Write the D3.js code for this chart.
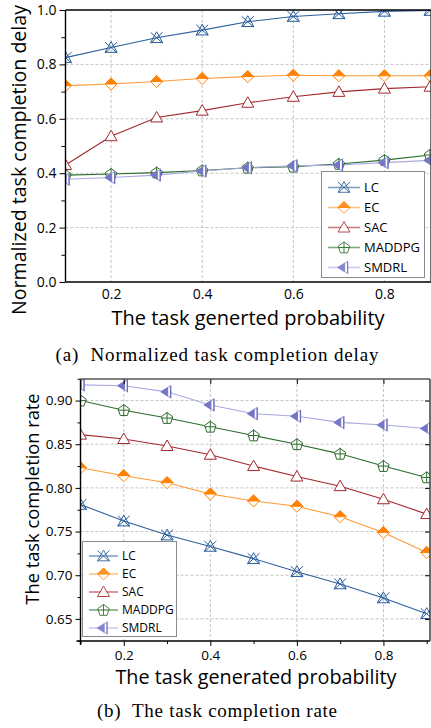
<!DOCTYPE html>
<html>
<head>
<meta charset="utf-8">
<script src="https://cdn.jsdelivr.net/npm/d3@7"></script>
<style>
  body { margin: 0; background: #fff; }
  svg { display: block; }
  .tick text { font-family: "Open Sans", sans-serif; fill: #000; }
</style>
</head>
<body>
<script>
"use strict";

// x values shared by both panels
var probs = [0.1, 0.2, 0.3, 0.4, 0.5, 0.6, 0.7, 0.8, 0.9];
var names = ["LC", "EC", "SAC", "MADDPG", "SMDRL"];

// (a) normalized task completion delay
var delayLC     = [0.825, 0.862, 0.898, 0.926, 0.957, 0.976, 0.986, 0.995, 0.998];
var delayEC     = [0.722, 0.728, 0.737, 0.748, 0.755, 0.760, 0.758, 0.758, 0.758];
var delaySAC    = [0.430, 0.536, 0.605, 0.630, 0.659, 0.681, 0.699, 0.711, 0.718];
var delayMADDPG = [0.393, 0.397, 0.402, 0.410, 0.420, 0.424, 0.434, 0.448, 0.467];
var delaySMDRL  = [0.378, 0.384, 0.393, 0.408, 0.420, 0.427, 0.430, 0.439, 0.447];

// (b) task completion rate
var rateLC     = [0.781, 0.762, 0.746, 0.733, 0.719, 0.704, 0.690, 0.674, 0.656];
var rateEC     = [0.823, 0.814, 0.806, 0.793, 0.785, 0.779, 0.767, 0.749, 0.726];
var rateSAC    = [0.861, 0.856, 0.848, 0.838, 0.825, 0.813, 0.802, 0.787, 0.770];
var rateMADDPG = [0.900, 0.889, 0.880, 0.870, 0.860, 0.850, 0.839, 0.825, 0.812];
var rateSMDRL  = [0.918, 0.917, 0.910, 0.895, 0.885, 0.882, 0.875, 0.872, 0.868];

var delayTicks = [0.0, 0.2, 0.4, 0.6, 0.8, 1.0];
var rateTicks = [0.65, 0.70, 0.75, 0.80, 0.85, 0.90];
var xTicks = [0.2, 0.4, 0.6, 0.8];

var colors = {
	LC: "#2d5f9c",
	EC: "#ff8205",
	SAC: "#a3282c",
	MADDPG: "#2c6b2c",
	SMDRL: "#7676c6"
};
var lineColors = {
	LC: "#2d5f9c",
	EC: "#ff9a33",
	SAC: "#a3282c",
	MADDPG: "#2c6b2c",
	SMDRL: "#a9a9e4"
};

var svg = d3.select("body").append("svg")
	.attr("width", 431)
	.attr("height", 728);

// draw one marker into group g, centred at 0,0
function marker(g, name, r) {
	var c = colors[name];
	if (name == "LC") {
		g.append("path")
			.attr("d", "M0," + (-r) + "L" + r + "," + (r * 0.8) + "L" + (-r) + "," + (r * 0.8) + "Z")
			.attr("fill", "none").attr("stroke", c).attr("stroke-width", 1);
		g.append("path")
			.attr("d", "M" + (-r) + "," + (-r * 0.9) + "L" + r + "," + (r * 0.9) + "M" + r + "," + (-r * 0.9) + "L" + (-r) + "," + (r * 0.9))
			.attr("fill", "none").attr("stroke", c).attr("stroke-width", 1);
	}
	else if (name == "EC") {
		g.append("path")
			.attr("d", "M0," + (-r) + "L" + r + ",0L0," + r + "L" + (-r) + ",0Z")
			.attr("fill", "#fff").attr("stroke", c).attr("stroke-width", 1);
		g.append("path")
			.attr("d", "M" + (-r) + ",0L0," + (-r) + "L" + r + ",0Z")
			.attr("fill", c).attr("stroke", c).attr("stroke-width", 1);
	}
	else if (name == "SAC") {
		g.append("path")
			.attr("d", "M0," + (-r) + "L" + r + "," + (r * 0.75) + "L" + (-r) + "," + (r * 0.75) + "Z")
			.attr("fill", "#fff").attr("stroke", c).attr("stroke-width", 1);
	}
	else if (name == "MADDPG") {
		var pts = d3.range(5).map(function (i) {
			var a = -Math.PI / 2 + i * 2 * Math.PI / 5;
			return [r * Math.cos(a), r * Math.sin(a) + 0.5];
		});
		g.append("path")
			.attr("d", "M" + pts.join("L") + "Z")
			.attr("fill", "#fff").attr("stroke", c).attr("stroke-width", 1);
		g.append("path")
			.attr("d", "M0," + (-r) + "V" + (r * 0.85) + "M" + (-r * 0.95) + ",0H" + (r * 0.95))
			.attr("fill", "none").attr("stroke", c).attr("stroke-width", 1);
	}
	else {
		g.append("path")
			.attr("d", "M" + (-r) + ",0L" + (r * 0.6) + "," + (-r) + "L" + (r * 0.6) + "," + r + "Z")
			.attr("fill", "#fff").attr("stroke", lineColors.SMDRL).attr("stroke-width", 1.2);
		g.append("path")
			.attr("d", "M" + (-r) + ",0L" + (r * 0.1) + "," + (-r * 0.69) + "L" + (r * 0.1) + "," + (r * 0.69) + "Z")
			.attr("fill", c).attr("stroke", c).attr("stroke-width", 1);
		g.append("path")
			.attr("d", "M" + (r * 0.6) + "," + (-r) + "V" + r)
			.attr("stroke", "#6a6abb").attr("stroke-width", 1.2);
	}
}

function drawPanel(opt) {
	var x = d3.scaleLinear().domain([0.1, 0.9]).range([opt.left, opt.x09]);
	var y = d3.scaleLinear().domain(opt.yDomain).range([opt.bottom, opt.top]);
	var panel = svg.append("g");

	var clipId = "clip" + opt.id;
	panel.append("clipPath").attr("id", clipId)
		.append("rect")
		.attr("x", opt.left).attr("y", opt.top)
		.attr("width", opt.right - opt.left).attr("height", opt.bottom - opt.top);

	// dashed grid
	panel.selectAll(".gx").data(xTicks).enter().append("line")
		.attr("x1", function (d) { return x(d); }).attr("x2", function (d) { return x(d); })
		.attr("y1", opt.top).attr("y2", opt.bottom)
		.attr("stroke", "#c4c4c4").attr("stroke-dasharray", "3,2");
	panel.selectAll(".gy").data(opt.yTicks.filter(function (d) {
		return y(d) > opt.top + 1 && y(d) < opt.bottom - 1;
	})).enter().append("line")
		.attr("x1", opt.left).attr("x2", opt.right)
		.attr("y1", function (d) { return y(d); }).attr("y2", function (d) { return y(d); })
		.attr("stroke", "#c4c4c4").attr("stroke-dasharray", "3,2");

	// series
	var plot = panel.append("g").attr("clip-path", "url(#" + clipId + ")");
	var line = d3.line()
		.x(function (d, i) { return x(probs[i]); })
		.y(function (d) { return y(d); });
	names.forEach(function (name) {
		plot.append("path")
			.datum(opt.series[name])
			.attr("d", line)
			.attr("fill", "none")
			.attr("stroke", lineColors[name])
			.attr("stroke-width", 1.1);
	});
	names.forEach(function (name) {
		opt.series[name].forEach(function (v, i) {
			var g = plot.append("g")
				.attr("transform", "translate(" + x(probs[i]) + "," + y(v) + ")");
			marker(g, name, opt.markerR);
		});
	});

	// axes
	var yMajor = d3.axisLeft(y).tickValues(opt.yTicks)
		.tickFormat(d3.format(opt.yFormat)).tickSize(opt.yTickLen).tickPadding(3);
	var yAxis = panel.append("g")
		.attr("transform", "translate(" + opt.left + ",0)")
		.call(yMajor);
	yAxis.select(".domain").remove();
	yAxis.selectAll(".tick text").style("font-size", opt.tickFont + "px");
	panel.append("g")
		.attr("transform", "translate(" + opt.left + ",0)")
		.call(d3.axisLeft(y).tickValues(opt.yMinor).tickFormat("").tickSize(opt.yTickLen - 2))
		.select(".domain").remove();

	var xAxis = panel.append("g")
		.attr("transform", "translate(0," + opt.bottom + ")")
		.call(d3.axisBottom(x).tickValues(xTicks).tickFormat(d3.format(".1f"))
			.tickSize(opt.xTickLen).tickPadding(opt.xPad));
	xAxis.select(".domain").remove();
	xAxis.selectAll(".tick text").style("font-size", opt.tickFont + "px");
	if (opt.xTickLen > 0) {
		panel.append("g")
			.attr("transform", "translate(0," + opt.bottom + ")")
			.call(d3.axisBottom(x).tickValues([0.1, 0.3, 0.5, 0.7, 0.9]).tickFormat("").tickSize(3))
			.select(".domain").remove();
	}

	if (opt.innerTicks) {
		panel.append("g")
			.attr("transform", "translate(0," + opt.top + ")")
			.call(d3.axisBottom(x).tickValues(xTicks).tickFormat("").tickSize(5))
			.select(".domain").remove();
		panel.append("g")
			.attr("transform", "translate(" + opt.right + ",0)")
			.call(d3.axisLeft(y).tickValues(opt.yTicks).tickFormat("").tickSize(5))
			.select(".domain").remove();
	}

	// frame
	panel.append("line").attr("x1", opt.left).attr("x2", opt.left)
		.attr("y1", opt.top).attr("y2", opt.bottom + (opt.xTickLen > 0 ? 4 : 0))
		.attr("stroke", "#000").attr("stroke-width", 1.4);
	panel.append("line").attr("x1", opt.left - (opt.xTickLen > 0 ? 4 : 0)).attr("x2", opt.right)
		.attr("y1", opt.bottom).attr("y2", opt.bottom)
		.attr("stroke", "#000").attr("stroke-width", 1.4);
	panel.append("line").attr("x1", opt.left).attr("x2", opt.right)
		.attr("y1", opt.top).attr("y2", opt.top)
		.attr("stroke", opt.topColor).attr("stroke-width", 1.6);
	panel.append("line").attr("x1", opt.right).attr("x2", opt.right)
		.attr("y1", opt.top).attr("y2", opt.bottom)
		.attr("stroke", "#333").attr("stroke-width", 1.4);

	// legend
	var lg = panel.append("g");
	lg.append("rect")
		.attr("x", opt.legend.x).attr("y", opt.legend.y)
		.attr("width", opt.legend.w).attr("height", opt.legend.h)
		.attr("fill", "#fff").attr("stroke", "#8a8a8a").attr("stroke-width", 1);
	names.forEach(function (name, i) {
		var cy = opt.legend.y0 + i * opt.legend.step;
		lg.append("line")
			.attr("x1", opt.legend.lx0).attr("x2", opt.legend.lx1)
			.attr("y1", cy).attr("y2", cy)
			.attr("stroke", lineColors[name]).attr("stroke-opacity", 0.6).attr("stroke-width", 1.6);
		var mg = lg.append("g")
			.attr("transform", "translate(" + (opt.legend.lx0 + opt.legend.lx1) / 2 + "," + cy + ")")
			.attr("opacity", 0.85);
		marker(mg, name, opt.markerR);
		lg.append("text")
			.attr("x", opt.legend.tx).attr("y", cy)
			.attr("dy", "0.36em")
			.style("font-family", "Open Sans, sans-serif")
			.style("font-size", opt.legend.font + "px")
			.text(name);
	});

	// labels
	svg.append("text")
		.attr("transform", "translate(" + opt.ylabX + "," + opt.ylabY + ") rotate(-90)")
		.attr("text-anchor", "middle")
		.style("font-family", "Open Sans, sans-serif")
		.style("font-size", opt.ylabFont + "px")
		.text(opt.ylab);
	svg.append("text")
		.attr("x", opt.xlabX).attr("y", opt.xlabY)
		.attr("text-anchor", "middle")
		.style("font-family", "Open Sans, sans-serif")
		.style("font-size", opt.xlabFont + "px")
		.text(opt.xlab);
	svg.append("text")
		.attr("x", 217).attr("y", opt.capY)
		.attr("text-anchor", "middle")
		.attr("textLength", opt.capLen)
		.attr("lengthAdjust", "spacing")
		.style("font-family", "Liberation Serif, serif")
		.style("font-size", "19px")
		.style("white-space", "pre")
		.text(opt.caption);
}

drawPanel({
	id: "a",
	left: 65.5, right: 431, x09: 430, top: 10, bottom: 282,
	yDomain: [0, 1], yTicks: delayTicks, yMinor: [0.1, 0.3, 0.5, 0.7, 0.9],
	yFormat: ".1f", yTickLen: 6, xTickLen: 0, xPad: 7, tickFont: 14,
	innerTicks: false, topColor: "#000", markerR: 6,
	series: { LC: delayLC, EC: delayEC, SAC: delaySAC, MADDPG: delayMADDPG, SMDRL: delaySMDRL },
	legend: { x: 321.5, y: 171.5, w: 103, h: 106, y0: 187.5, step: 20, lx0: 328, lx1: 360, tx: 364, font: 13 },
	ylab: "Normalized task completion delay", ylabX: 26, ylabY: 160, ylabFont: 19.6,
	xlab: "The task generted probability", xlabX: 248, xlabY: 325, xlabFont: 20,
	caption: "(a)  Normalized task completion delay", capY: 361, capLen: 323
});

drawPanel({
	id: "b",
	left: 80.5, right: 430, x09: 426.7, top: 379, bottom: 641,
	yDomain: [0.6247, 0.9247], yTicks: rateTicks, yMinor: [0.625, 0.675, 0.725, 0.775, 0.825, 0.875, 0.925],
	yFormat: ".2f", yTickLen: 5, xTickLen: 5, xPad: 4, tickFont: 13.5,
	innerTicks: true, topColor: "#555", markerR: 6,
	series: { LC: rateLC, EC: rateEC, SAC: rateSAC, MADDPG: rateMADDPG, SMDRL: rateSMDRL },
	legend: { x: 82.5, y: 541.5, w: 94, h: 95, y0: 556, step: 18, lx0: 89, lx1: 118, tx: 122, font: 12 },
	ylab: "The task completion rate", ylabX: 39, ylabY: 499, ylabFont: 18.3,
	xlab: "The task generated probability", xlabX: 256, xlabY: 684, xlabFont: 19.8,
	caption: "(b)  The task completion rate", capY: 717, capLen: 240
});
</script>
</body>
</html>
